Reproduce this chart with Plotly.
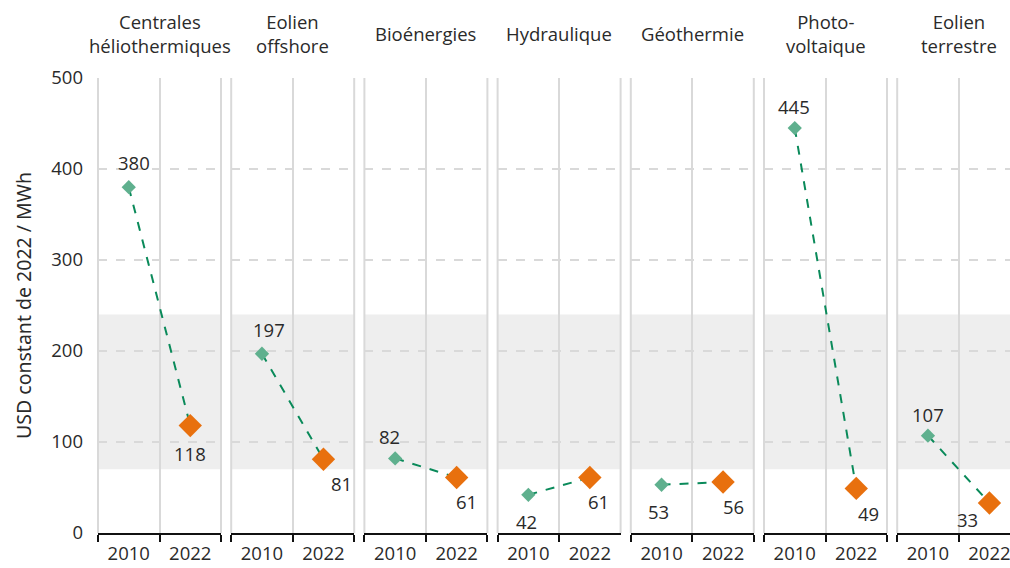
import plotly.graph_objects as go
from plotly.subplots import make_subplots

technologies = ["Centrales<br>héliothermiques", "Eolien<br>offshore", "Bioénergies",
                "Hydraulique", "Géothermie", "Photo-<br>voltaique", "Eolien<br>terrestre"]
years = ["2010", "2022"]
cost_2010 = [380, 197, 82, 42, 53, 445, 107]
cost_2022 = [118, 81, 61, 61, 56, 49, 33]
fossil_range = [70, 240]
y_ticks = [0, 100, 200, 300, 400, 500]

# label offsets (px) for 2010 and 2022 values
off_2010 = [(5, 25), (7, 24), (-6, 22), (-2, -27), (-3, -27), (-1, 22), (0, 21)]
off_2022 = [(0, -28), (18, -24), (10, -24), (9, -24), (10, -24), (12, -25), (-22, -17)]

W, H = 1010, 568
ML, MT, MB = 98, 78, 35
plot_w = W - ML
panel_w = 123
step = 133.2

FONT = "Open Sans"
FS = 18.5
TXT = "#2a2a2a"
GREEN_LINE = "#0a8a5a"
GREEN_MK = "#5fb08e"
ORANGE = "#e8700e"
GRID = "#d9d9d9"

n = len(technologies)
fig = make_subplots(rows=1, cols=n, shared_yaxes=True, horizontal_spacing=0.01)

for i in range(n):
    fig.add_trace(go.Scatter(
        x=years, y=[cost_2010[i], cost_2022[i]], mode="lines",
        line=dict(color=GREEN_LINE, width=2, dash="dash"),
        showlegend=False, hoverinfo="skip"), row=1, col=i + 1)
    fig.add_trace(go.Scatter(
        x=[years[0]], y=[cost_2010[i]], mode="markers",
        marker=dict(symbol="diamond", size=11, color=GREEN_MK),
        showlegend=False), row=1, col=i + 1)
    fig.add_trace(go.Scatter(
        x=[years[1]], y=[cost_2022[i]], mode="markers",
        marker=dict(symbol="diamond", size=18, color=ORANGE),
        showlegend=False), row=1, col=i + 1)

for i in range(n):
    left = ML + step * i
    right = min(left + panel_w, W)
    d0 = (left - ML) / plot_w
    d1 = (right - ML) / plot_w
    frac = (right - left) / panel_w
    xa = "xaxis" if i == 0 else f"xaxis{i + 1}"
    fig.layout[xa].update(
        domain=[d0, min(d1, 1.0)], type="category", categoryorder="array",
        categoryarray=years, range=[-0.5, -0.5 + 2 * frac],
        tickson="boundaries", ticks="outside", ticklen=7, tickwidth=1.5,
        tickcolor="#111111", showline=True, linecolor="#111111", linewidth=1.5,
        showgrid=True, gridcolor=GRID, gridwidth=2, ticklabelstandoff=3,
        tickfont=dict(family=FONT, size=FS, color=TXT), fixedrange=True)
    xref = "x" if i == 0 else f"x{i + 1}"
    yref = "y" if i == 0 else f"y{i + 1}"
    # fossil fuel band
    fig.add_shape(type="rect", xref=f"{xref} domain", yref=yref, x0=0, x1=1,
                  y0=fossil_range[0], y1=fossil_range[1],
                  fillcolor="#eeeeee", line_width=0, layer="below")
    # panel borders
    for xd in ([0, 1] if right < W else [0]):
        fig.add_shape(type="line", xref=f"{xref} domain", yref=f"{yref} domain",
                      x0=xd, x1=xd, y0=0, y1=1, line=dict(color=GRID, width=2),
                      layer="below")
    # panel titles
    fig.add_annotation(text=technologies[i], xref=f"{xref} domain", yref="paper",
                       x=0.5 / frac if frac < 1 else 0.5, y=1 + 44 / (H - MT - MB),
                       xanchor="center", yanchor="middle", showarrow=False,
                       font=dict(family=FONT, size=FS, color=TXT))
    # value labels (x given as category index)
    fig.add_annotation(text=str(cost_2010[i]), x=0, y=cost_2010[i],
                       xref=xref, yref=yref, showarrow=False,
                       xshift=off_2010[i][0], yshift=off_2010[i][1],
                       font=dict(family=FONT, size=FS, color=TXT))
    fig.add_annotation(text=str(cost_2022[i]), x=1, y=cost_2022[i],
                       xref=xref, yref=yref, showarrow=False,
                       xshift=off_2022[i][0], yshift=off_2022[i][1],
                       font=dict(family=FONT, size=FS, color=TXT))

for i in range(n):
    ya = "yaxis" if i == 0 else f"yaxis{i + 1}"
    fig.layout[ya].update(range=[0, 500], tickvals=y_ticks, showgrid=True,
                          gridcolor=GRID, gridwidth=1.5, griddash="dash",
                          zeroline=False, showline=False, ticks="",
                          fixedrange=True)

fig.layout.yaxis.update(
    ticklabelstandoff=14,
    tickfont=dict(family=FONT, size=FS, color=TXT),
    title=dict(text="USD constant de 2022 / MWh", standoff=14,
               font=dict(family="Noto Sans", size=19.5, color=TXT)))

fig.update_layout(
    width=W, height=H, margin=dict(l=ML, r=0, t=MT, b=MB),
    plot_bgcolor="white", paper_bgcolor="white", showlegend=False)

fig.write_html("out.html", config={"displayModeBar": False},
               post_script="document.body.style.margin='0';document.body.style.overflow='hidden';")
